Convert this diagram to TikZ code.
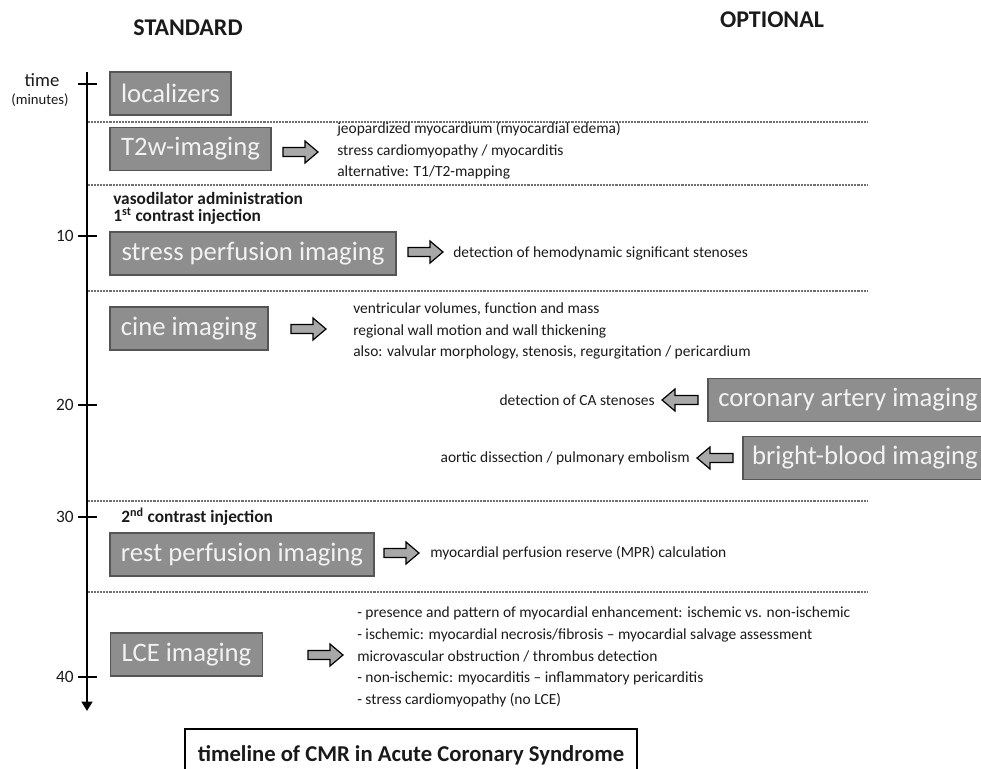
\documentclass[tikz,border=0pt]{standalone}
\usepackage{fontspec}
\setmainfont{Carlito}
\usetikzlibrary{arrows.meta}
\definecolor{boxfill}{HTML}{8E8E8E}
\definecolor{boxline}{HTML}{555555}
\definecolor{boxtext}{HTML}{F2F2F2}
\definecolor{arrowfill}{HTML}{A8A8A8}
\definecolor{dotgray}{HTML}{707070}
\definecolor{txt}{HTML}{1A1A1A}
\begin{document}
\begin{tikzpicture}[x=0.75pt,y=-0.75pt,
  stdbox/.style={draw=boxline, line width=0.9pt, fill=boxfill, text=boxtext, font=\fontsize{20}{24}\selectfont, inner sep=0pt, minimum height=32.25pt},
  desc/.style={anchor=west, align=left, font=\fontsize{11.6}{16.2}\selectfont, inner sep=0pt, text=txt},
  note/.style={anchor=west, font=\bfseries\fontsize{13}{15}\selectfont, inner sep=0pt, text=txt},
  head/.style={font=\bfseries\fontsize{18}{22}\selectfont, text=txt},
  ticklab/.style={anchor=east, font=\fontsize{13}{15}\selectfont, inner sep=0pt, text=txt},
  dotline/.style={draw=dotgray, line width=0.9pt, dash pattern=on 0.6pt off 0.5pt},
  axisline/.style={line width=1.9pt, draw=black},
  blkarrow/.style={draw=black, line width=0.9pt, fill=arrowfill, line join=miter},
  titlebox/.style={draw=black, line width=0.9pt, font=\bfseries\fontsize{17}{20}\selectfont, text=txt, inner sep=0pt, minimum width=339pt, minimum height=45.75pt},
  rarrow/.pic={\path[blkarrow] (0,-4.5) -- (22,-4.5) -- (22,-11) -- (35,0) -- (22,11) -- (22,4.5) -- (0,4.5) -- cycle;},
  larrow/.pic={\path[blkarrow] (0,0) -- (13,-11) -- (13,-4.5) -- (36,-4.5) -- (36,4.5) -- (13,4.5) -- (13,11) -- cycle;}
]
\useasboundingbox (0,0) rectangle (981,768);

% headers
\node[head] (std) at (188,28) {STANDARD};
\node[head] (opt) at (772,20) {OPTIONAL};

% time axis
\node[font=\fontsize{14}{16}\selectfont, text=txt] (time) at (42,80) {time};
\node[font=\fontsize{11}{13}\selectfont, text=txt] (minutes) at (40,100) {(minutes)};
\coordinate (axtop) at (87,72);
\coordinate (axend) at (87,711);
\draw[axisline, -{Triangle[width=8pt,length=7pt]}] (axtop) -- (axend);
\foreach \yy/\lab in {236/10, 405/20, 517/30, 677/40}{
  \draw[axisline] (78,\yy) -- (97,\yy);
  \node[ticklab] (tick\lab) at (74,\yy) {\lab};
}
\draw[axisline] (78,84) -- (97,84);

% dotted separators
\foreach \yy in {122,185,291,501,592}{
  \draw[dotline] (88,\yy) -- (868,\yy);
}

% standard boxes
\node[stdbox, minimum width=90.75pt] (loc) at (170.5,93.5) {localizers};
\node[stdbox, minimum width=120.75pt] (t2w) at (190.5,149) {T2w-imaging};
\node[stdbox, minimum width=214.5pt] (stress) at (253,253.5) {stress perfusion imaging};
\node[stdbox, minimum width=118.5pt] (cine) at (189,328.5) {cine imaging};
\node[stdbox, minimum width=198pt] (rest) at (242,554.5) {rest perfusion imaging};
\node[stdbox, minimum width=114pt] (lce) at (186.5,654.5) {LCE imaging};

% optional boxes
\node[stdbox, minimum width=210pt] (cor) at (848,400) {coronary artery imaging};
\node[stdbox, minimum width=183pt] (bb) at (865,458) {bright-blood imaging};

% notes
\node[note] (vaso) at (113,198) {vasodilator administration};
\node[note] (inj1) at (113,216) {1\textsuperscript{st} contrast injection};
\node[note] (inj2) at (121,517) {2\textsuperscript{nd} contrast injection};

% descriptions
\node[desc] (t2wtxt) at (337,151) {jeopardized myocardium (myocardial edema)\\stress cardiomyopathy / myocarditis\\alternative: T1/T2-mapping};
\node[desc] (stresstxt) at (453,253) {detection of hemodynamic significant stenoses};
\node[desc] (cinetxt) at (353,331) {ventricular volumes, function and mass\\regional wall motion and wall thickening\\also: valvular morphology, stenosis, regurgitation / pericardium};
\node[desc, anchor=east] (cortxt) at (655,400) {detection of CA stenoses};
\node[desc, anchor=east] (bbtxt) at (690,458) {aortic dissection / pulmonary embolism};
\node[desc] (resttxt) at (430,553) {myocardial perfusion reserve (MPR) calculation};
\node[desc] (lcetxt) at (357,657) {- presence and pattern of myocardial enhancement: ischemic vs. non-ischemic\\- ischemic: myocardial necrosis/fibrosis -- myocardial salvage assessment\\microvascular obstruction / thrombus detection\\- non-ischemic: myocarditis -- inflammatory pericarditis\\- stress cardiomyopathy (no LCE)};

% block arrows
\pic (arT2w) at (283,152) {rarrow};
\pic (arStress) at (408,252) {rarrow};
\pic (arCine) at (291,329) {rarrow};
\pic (arCor) at (662,400) {larrow};
\pic (arBB) at (697,458) {larrow};
\pic (arRest) at (384,553) {rarrow};
\pic (arLCE) at (308,655) {rarrow};

% title
\node[titlebox] (title) at (411,759.5) {\raisebox{9pt}{timeline of CMR in Acute Coronary Syndrome}};
\end{tikzpicture}
\end{document}
